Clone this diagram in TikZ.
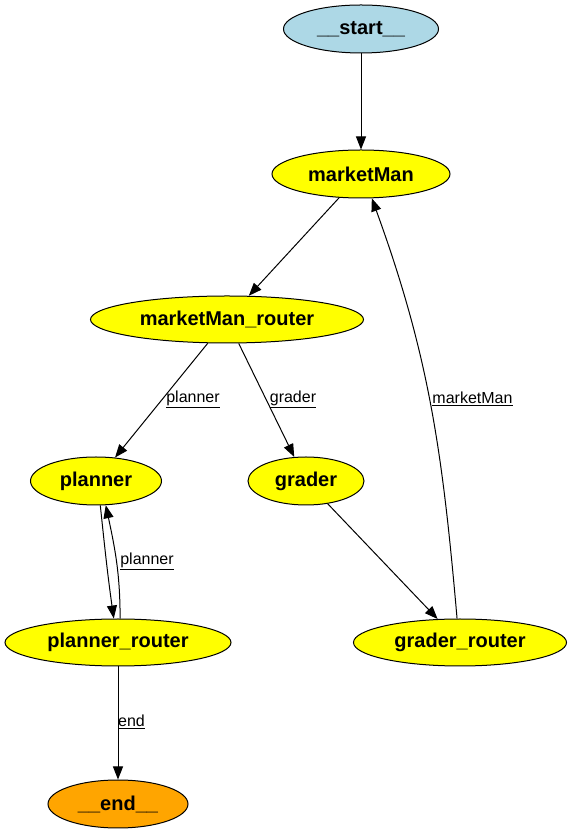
\documentclass[tikz,border=0pt]{standalone}
\usepackage{fontspec}
\setmainfont{Liberation Sans}
\usetikzlibrary{shapes.geometric,arrows.meta}
\definecolor{startblue}{HTML}{ADD8E6}
\definecolor{nodeyellow}{HTML}{FFFF00}
\definecolor{endorange}{HTML}{FFA500}
\begin{document}
\begin{tikzpicture}[x=1pt,y=1pt,
  gnode/.style={ellipse,draw=black,line width=1pt,inner sep=0pt,minimum height=48pt,
    font=\fontsize{20}{24}\selectfont\bfseries,fill=nodeyellow},
  edge/.style={draw=black,line width=1pt,-{Triangle[length=13pt,width=10pt]}},
  elabel/.style={inner sep=0pt,font=\fontsize{16}{19}\selectfont}
]
\useasboundingbox (0,0) rectangle (572,833);
\node[gnode,fill=startblue,minimum width=155pt] (start) at (361,804) {\_\_start\_\_};
\node[gnode,minimum width=178pt] (mm) at (361,659) {marketMan};
\node[gnode,minimum width=273pt,minimum height=47pt] (mmr) at (227,513.5) {marketMan\_router};
\node[gnode,minimum width=131pt] (pl) at (96,352) {planner};
\node[gnode,minimum width=116pt] (gd) at (306,352) {grader};
\node[gnode,minimum width=226pt,minimum height=47pt] (pr) at (118,190.5) {planner\_router};
\node[gnode,minimum width=213pt,minimum height=47pt] (gr) at (460,190.5) {grader\_router};
\node[gnode,fill=endorange,minimum width=140pt] (end) at (118,29) {\_\_end\_\_};

\draw[edge] (start) -- (mm);
\draw[edge] (mm) -- (mmr);
\draw[edge] (mmr) -- (pl);
\draw[edge] (mmr) -- (gd);
\draw[edge] (gd) -- (gr);
\draw[edge] (gr.97) to[out=95,in=-70] (mm.-66);
\draw[edge] (pl.-80) to[out=-84,in=98] (pr.100);
\draw[edge] (pr.85) to[out=90,in=-78] (pl.-68);
\draw[edge] (pr) -- (end);

\node[elabel] (lpl) at (193,434) {\underline{planner}};
\node[elabel] (lgd) at (293,434) {\underline{grader}};
\node[elabel] (lmm) at (472.5,434) {\underline{marketMan}};
\node[elabel] (lpl2) at (147,272) {\underline{planner}};
\node[elabel] (lend) at (131.5,111) {\underline{end}};
\end{tikzpicture}
\end{document}
